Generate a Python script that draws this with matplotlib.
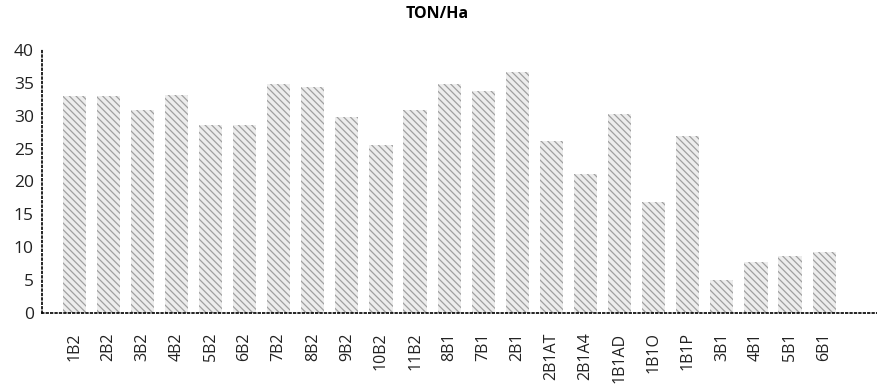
import numpy as np
import matplotlib.pyplot as plt

plt.rcParams['font.family'] = ['Open Sans', 'DejaVu Sans']
plt.rcParams['hatch.linewidth'] = 0.9

labels = ['1B2', '2B2', '3B2', '4B2', '5B2', '6B2', '7B2', '8B2', '9B2', '10B2', '11B2',
          '8B1', '7B1', '2B1', '2B1AT', '2B1A4', '1B1AD', '1B1O', '1B1P',
          '3B1', '4B1', '5B1', '6B1']
ton_ha = [33.0, 33.0, 30.9, 33.2, 28.6, 28.6, 34.9, 34.3, 29.8, 25.6, 30.8,
          34.9, 33.7, 36.7, 26.1, 21.1, 30.3, 16.9, 26.9,
          5.0, 7.8, 8.6, 9.3]

fig = plt.figure(figsize=(8.77, 3.92), dpi=100)
ax = fig.add_axes([0.048, 0.2015, 0.952, 0.671])

x = np.arange(len(labels))
ax.bar(x, ton_ha, width=0.68, color='#ededed', edgecolor='#a0a0a0',
       linewidth=0, hatch='\\\\\\\\\\')

ax.set_xlim(-0.94, len(labels) + 0.55)
ax.set_ylim(0, 40)
ax.set_yticks(range(0, 41, 5))
ax.set_xticks(x)
ax.set_xticklabels(labels, rotation=90, fontsize=11.5, color='#222222')
ax.tick_params(axis='x', length=0, pad=14)
ax.tick_params(axis='y', length=0, pad=6, labelsize=12.5, labelcolor='#222222')

for side in ['top', 'right']:
    ax.spines[side].set_visible(False)
for side in ['left', 'bottom']:
    ax.spines[side].set_linestyle(':')
    ax.spines[side].set_linewidth(1.2)

fig.text(0.498, 0.964, 'TON/Ha', ha='center', va='center',
         fontsize=11.5, fontweight='bold')

fig.savefig('out.png', dpi=100)
